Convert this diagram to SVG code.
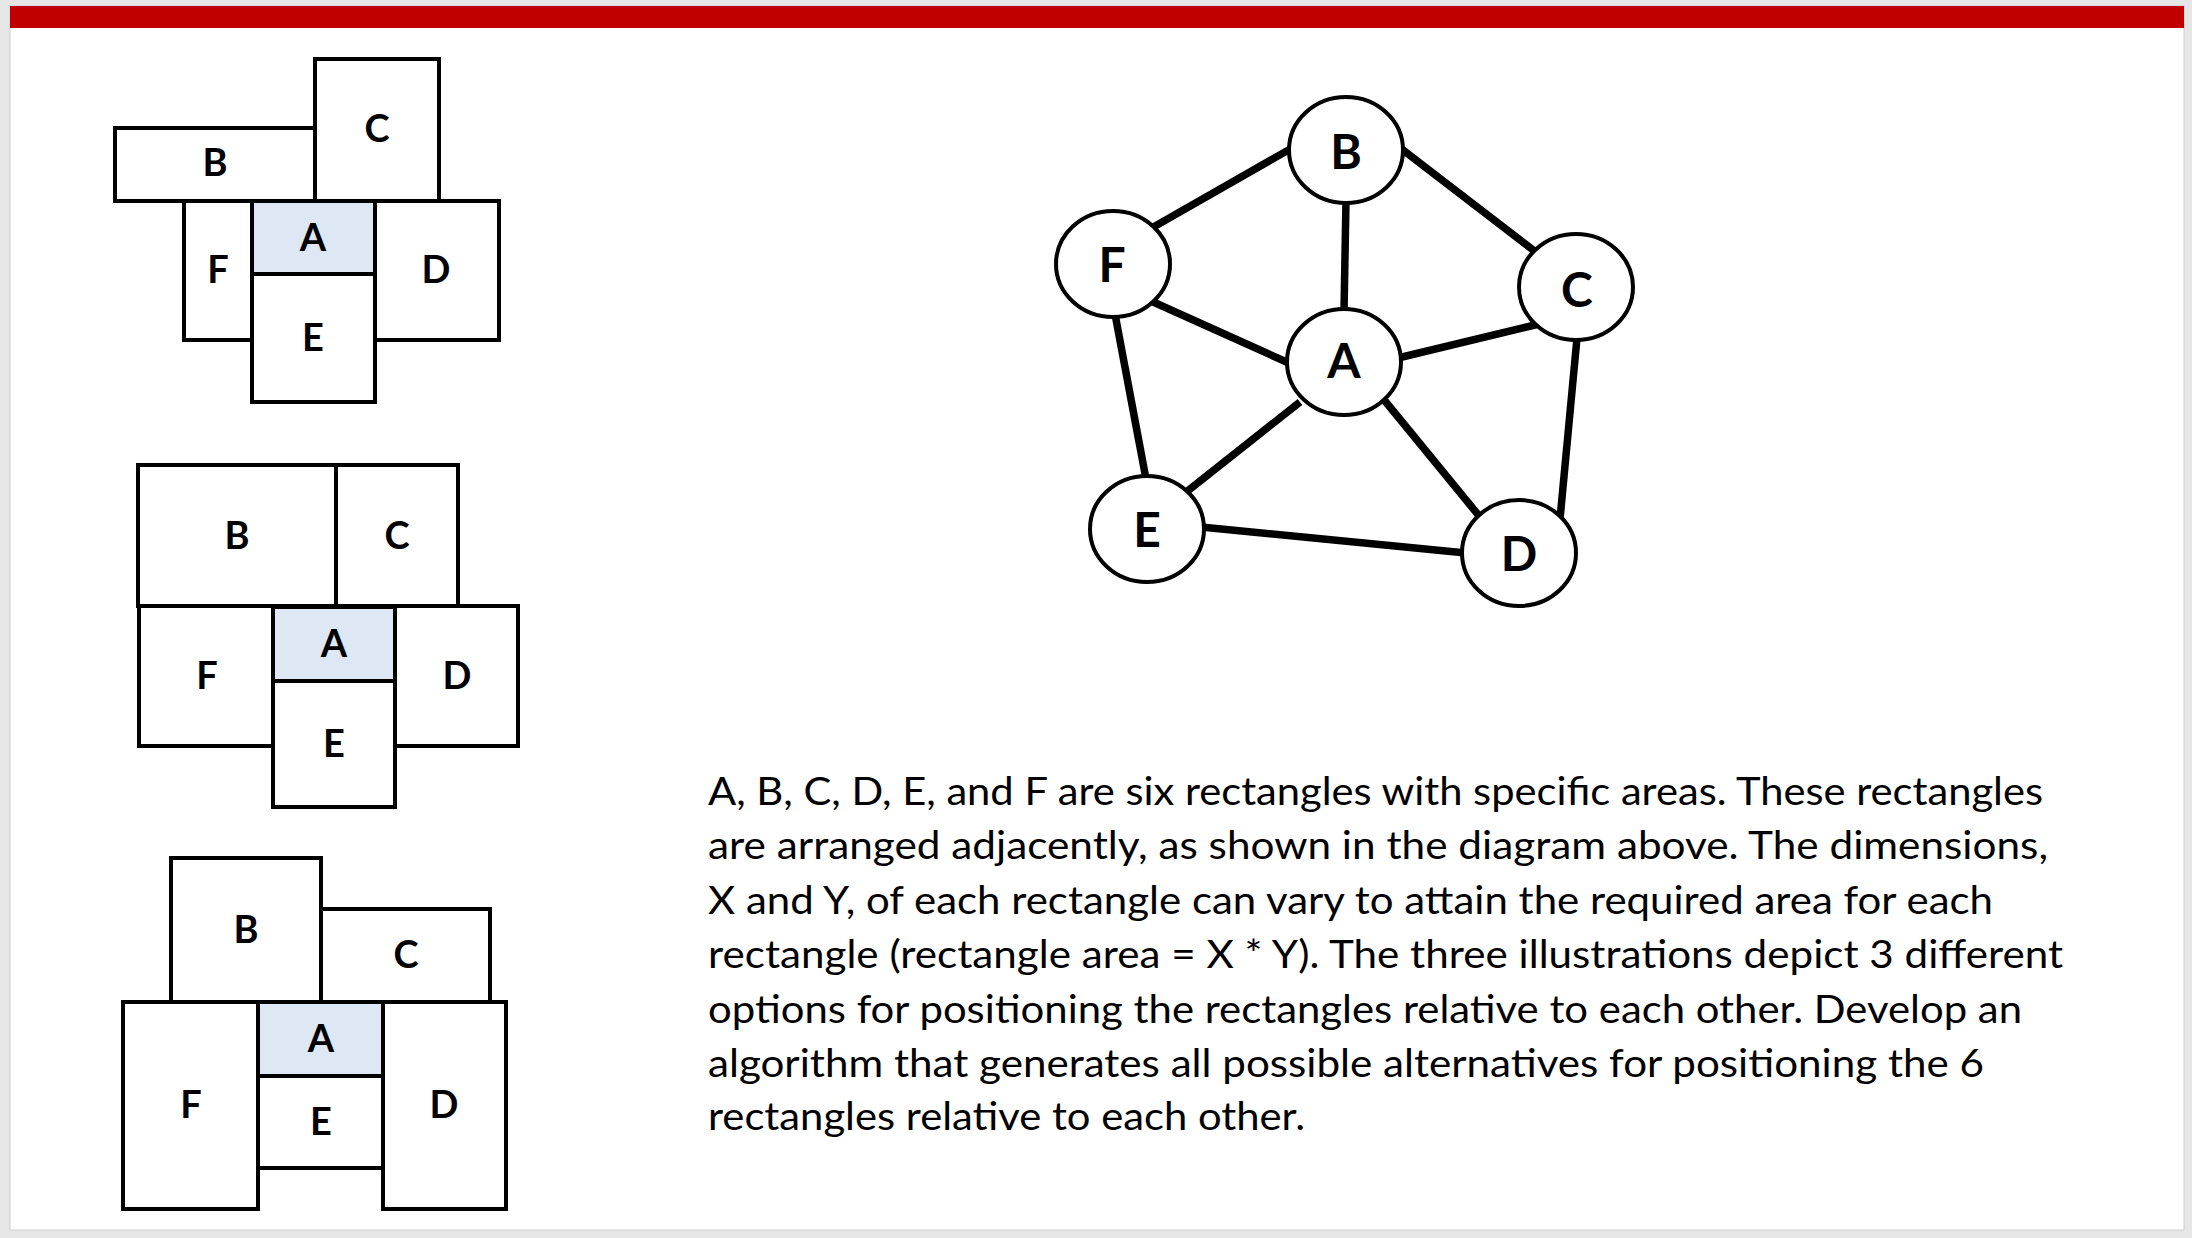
<svg xmlns="http://www.w3.org/2000/svg" width="2192" height="1238" viewBox="0 0 2192 1238">
<style>
.r{fill:#fff;stroke:#000;stroke-width:4;stroke-linejoin:miter}
.a{fill:#dde8f4}
.lb{font-family:Lato,"Open Sans","Liberation Sans",sans-serif;font-weight:bold;font-size:38px;fill:#000;text-anchor:middle}
.gl{font-size:48px}
.e{stroke:#000;stroke-width:7.5;stroke-linecap:butt;fill:none}
.n{fill:#fff;stroke:#000;stroke-width:4}
.t{font-family:Lato,"Open Sans","Liberation Sans",sans-serif;font-size:39px;fill:#000}
</style>
<rect x="0" y="0" width="2192" height="1238" fill="#e6e6e6"/>
<rect x="10" y="6" width="2174" height="1224" fill="#fff" stroke="#d0d0d0" stroke-width="1"/>
<rect x="10" y="6" width="2174" height="22" fill="#c00000"/>

<g id="layout1">
<g id="l1-C"><rect class="r" x="315" y="59" width="124" height="142"/><text class="lb" x="377" y="142">C</text></g>
<g id="l1-B"><rect class="r" x="115" y="128" width="200" height="73"/><text class="lb" x="215" y="176">B</text></g>
<g id="l1-F"><rect class="r" x="184" y="201" width="68" height="139"/><text class="lb" x="218" y="283">F</text></g>
<g id="l1-D"><rect class="r" x="375" y="201" width="124" height="139"/><text class="lb" x="436" y="283">D</text></g>
<g id="l1-E"><rect class="r" x="252" y="274" width="123" height="128"/><text class="lb" x="313" y="351">E</text></g>
<g id="l1-A"><rect class="r a" x="252" y="201" width="123" height="73"/><text class="lb" x="313" y="251">A</text></g>
</g>

<g id="layout2">
<g id="l2-B"><rect class="r" x="138" y="465" width="198" height="141"/><text class="lb" x="237" y="549">B</text></g>
<g id="l2-C"><rect class="r" x="336" y="465" width="122" height="141"/><text class="lb" x="397" y="549">C</text></g>
<g id="l2-F"><rect class="r" x="139" y="606" width="134" height="140"/><text class="lb" x="207" y="689">F</text></g>
<g id="l2-D"><rect class="r" x="395" y="606" width="123" height="140"/><text class="lb" x="457" y="689">D</text></g>
<g id="l2-E"><rect class="r" x="273" y="681" width="122" height="126"/><text class="lb" x="334" y="757">E</text></g>
<g id="l2-A"><rect class="r a" x="273" y="607" width="122" height="74"/><text class="lb" x="334" y="657">A</text></g>
</g>

<g id="layout3">
<g id="l3-B"><rect class="r" x="171" y="858" width="150" height="144"/><text class="lb" x="246" y="943">B</text></g>
<g id="l3-C"><rect class="r" x="321" y="909" width="169" height="93"/><text class="lb" x="406" y="968">C</text></g>
<g id="l3-F"><rect class="r" x="123" y="1002" width="135" height="207"/><text class="lb" x="191" y="1118">F</text></g>
<g id="l3-D"><rect class="r" x="383" y="1002" width="123" height="207"/><text class="lb" x="444" y="1118">D</text></g>
<g id="l3-E"><rect class="r" x="258" y="1076" width="125" height="92"/><text class="lb" x="321" y="1135">E</text></g>
<g id="l3-A"><rect class="r a" x="258" y="1002" width="125" height="74"/><text class="lb" x="321" y="1052">A</text></g>
</g>

<g id="connectors">
<line class="e" x1="1150" y1="229" x2="1292" y2="148"/>
<line class="e" x1="1399" y1="147" x2="1537" y2="253"/>
<line class="e" x1="1346" y1="200" x2="1344" y2="312"/>
<line class="e" x1="1151" y1="301" x2="1291" y2="364"/>
<line class="e" x1="1398" y1="358" x2="1539" y2="324"/>
<line class="e" x1="1115" y1="314" x2="1146" y2="479"/>
<line class="e" x1="1300" y1="402" x2="1185" y2="493"/>
<line class="e" x1="1385" y1="401" x2="1480" y2="517"/>
<line class="e" x1="1577" y1="338" x2="1560" y2="519"/>
<line class="e" x1="1201" y1="527" x2="1466" y2="553"/>
</g>

<g id="node-B"><ellipse class="n" cx="1346" cy="150" rx="57" ry="53"/><text class="lb gl" x="1346" y="169">B</text></g>
<g id="node-F"><ellipse class="n" cx="1113" cy="264" rx="57" ry="53"/><text class="lb gl" x="1112" y="282">F</text></g>
<g id="node-C"><ellipse class="n" cx="1576" cy="287" rx="57" ry="53"/><text class="lb gl" x="1577" y="307">C</text></g>
<g id="node-A"><ellipse class="n" cx="1344" cy="362" rx="57" ry="53"/><text class="lb gl" x="1344" y="378">A</text></g>
<g id="node-E"><ellipse class="n" cx="1147" cy="529" rx="57" ry="53"/><text class="lb gl" x="1147" y="547">E</text></g>
<g id="node-D"><ellipse class="n" cx="1519" cy="553" rx="57" ry="53"/><text class="lb gl" x="1519" y="571">D</text></g>

<g id="description">
<text class="t" x="708" y="805" textLength="1335" lengthAdjust="spacingAndGlyphs">A, B, C, D, E, and F are six rectangles with specific areas. These rectangles</text>
<text class="t" x="708" y="859" textLength="1340" lengthAdjust="spacingAndGlyphs">are arranged adjacently, as shown in the diagram above. The dimensions,</text>
<text class="t" x="708" y="914" textLength="1285" lengthAdjust="spacingAndGlyphs">X and Y, of each rectangle can vary to attain the required area for each</text>
<text class="t" x="708" y="968" textLength="1355" lengthAdjust="spacingAndGlyphs">rectangle (rectangle area = X * Y). The three illustrations depict 3 different</text>
<text class="t" x="708" y="1023" textLength="1314" lengthAdjust="spacingAndGlyphs">options for positioning the rectangles relative to each other. Develop an</text>
<text class="t" x="708" y="1077" textLength="1276" lengthAdjust="spacingAndGlyphs">algorithm that generates all possible alternatives for positioning the 6</text>
<text class="t" x="708" y="1130" textLength="597" lengthAdjust="spacingAndGlyphs">rectangles relative to each other.</text>
</g>
</svg>
